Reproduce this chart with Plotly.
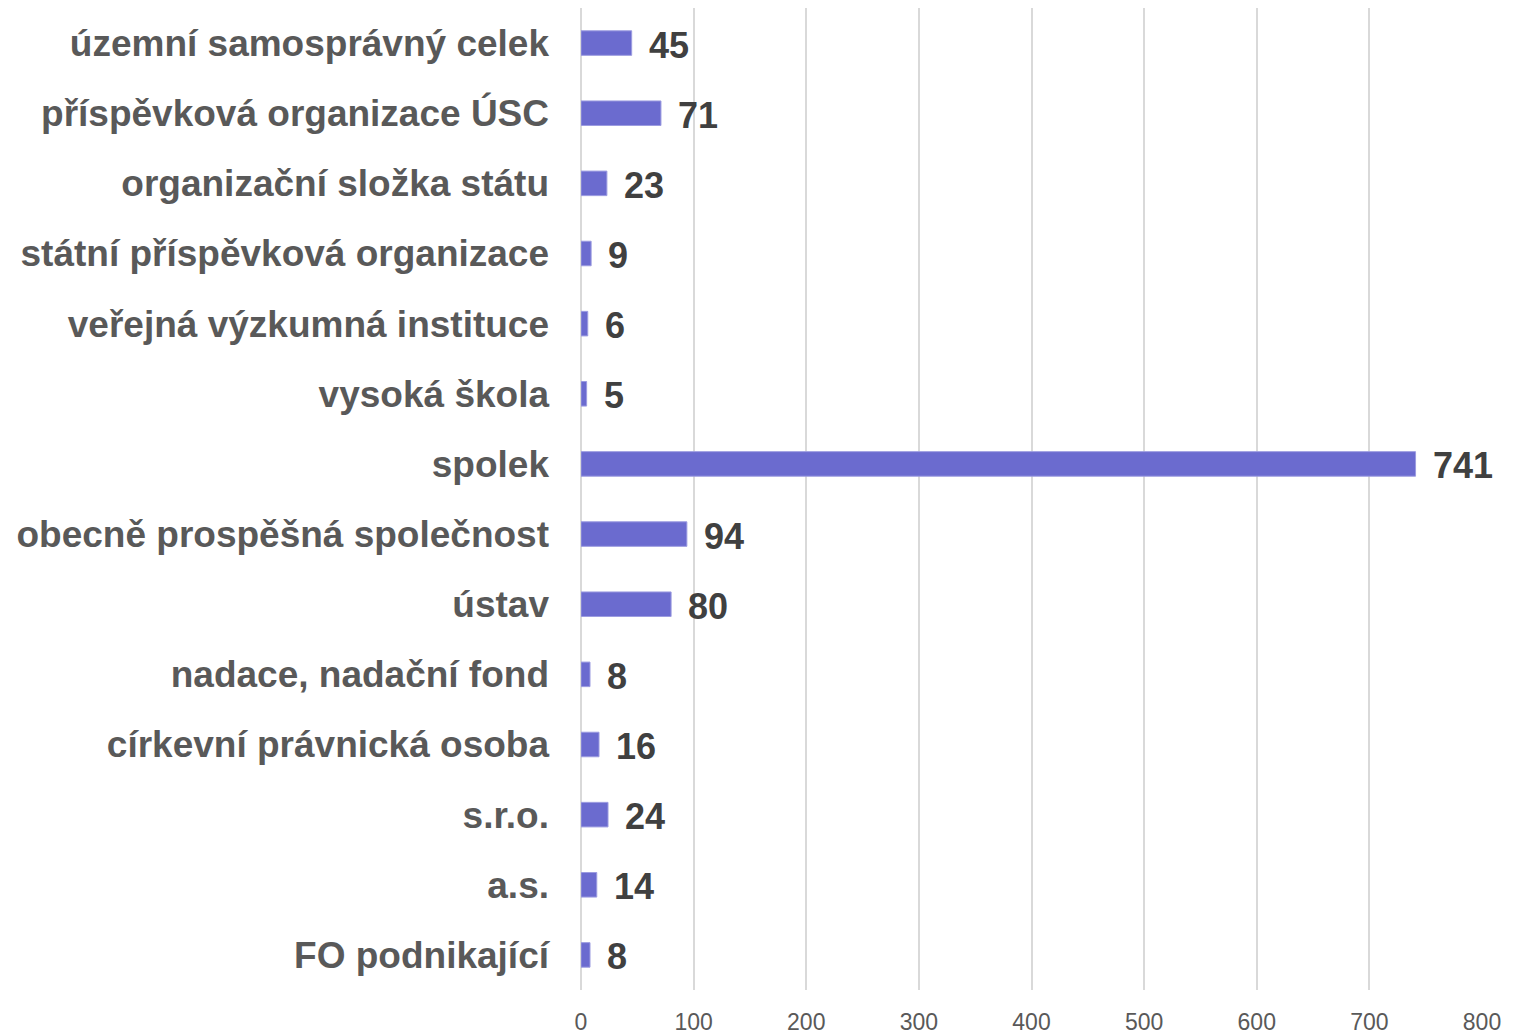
import plotly.graph_objects as go

categories = [
    "územní samosprávný celek",
    "příspěvková organizace ÚSC",
    "organizační složka státu",
    "státní příspěvková organizace",
    "veřejná výzkumná instituce",
    "vysoká škola",
    "spolek",
    "obecně prospěšná společnost",
    "ústav",
    "nadace, nadační fond",
    "církevní právnická osoba",
    "s.r.o.",
    "a.s.",
    "FO podnikající",
]
values = [45, 71, 23, 9, 6, 5, 741, 94, 80, 8, 16, 24, 14, 8]
tick_vals = [0, 100, 200, 300, 400, 500, 600, 700, 800]

fig = go.Figure(go.Bar(
    y=categories,
    x=values,
    orientation="h",
    marker=dict(color="#6B6BCF", line=dict(color="#9C9CE0", width=1)),
    cliponaxis=False,
    hoverinfo="x+y",
))

for cat, val in zip(categories, values):
    fig.add_annotation(
        x=val, y=cat, xref="x", yref="y",
        text=str(val), showarrow=False,
        xanchor="left", yanchor="middle", xshift=15, yshift=-2,
        font=dict(family="Liberation Sans", size=36, color="#404040", weight="bold"),
    )

fig.update_layout(
    width=1517, height=1032,
    margin=dict(l=573, r=43, t=0, b=50),
    plot_bgcolor="white", paper_bgcolor="white",
    bargap=0.65,
    showlegend=False,
    xaxis=dict(
        range=[0, 800], tickvals=tick_vals, automargin=False,
        showgrid=True, gridcolor="#D9D9D9", gridwidth=1.5,
        zeroline=True, zerolinecolor="#D9D9D9", zerolinewidth=1.5,
        showline=False,
        tickfont=dict(family="Liberation Sans", size=23, color="#595959"),
        ticklabelstandoff=16,
    ),
    yaxis=dict(
        categoryorder="array", categoryarray=categories, autorange="reversed",
        automargin=False,
        showgrid=False, showline=False,
        tickfont=dict(family="Liberation Sans", size=37, color="#595959", weight="bold"),
        ticklabelstandoff=31,
    ),
)

fig.write_html("out.html")
